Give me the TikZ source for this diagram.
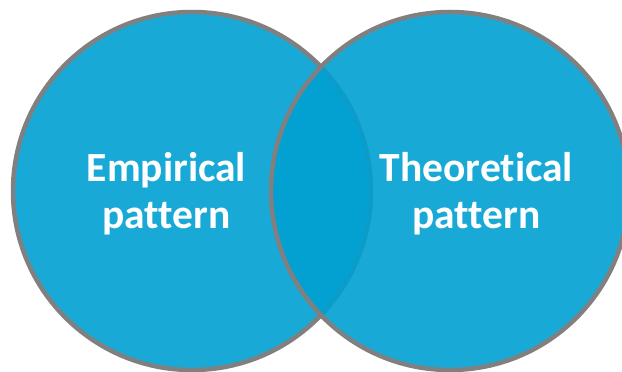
\documentclass[tikz,border=0pt]{standalone}
\usepackage{fontspec}
\setmainfont{Carlito}[RawFeature={-liga}]
\usetikzlibrary{positioning}
\definecolor{vennblue}{RGB}{0,160,210}
\definecolor{venngray}{RGB}{128,128,128}
\tikzset{
  venn/.style={circle,draw=venngray,line width=4.5pt,fill=vennblue,fill opacity=0.9,minimum size=358pt,inner sep=0pt},
  vlab/.style={align=center,text=white,font=\fontsize{41.5}{46.6}\selectfont\bfseries,inner sep=0pt,anchor=base}
}
\begin{document}
\begin{tikzpicture}[x=1pt,y=1pt]
  \useasboundingbox (0,0) rectangle (622,372);
  \node[venn] (empir) at (192,181) {};
  \node[venn] (theor) at (450,181) {};
  \node[vlab] (empirlab) at (166.5,143.7) {Empirical\\pattern};
  \node[vlab] (theorlab) at (476.5,143.7) {Theoretical\\pattern};
\end{tikzpicture}
\end{document}
